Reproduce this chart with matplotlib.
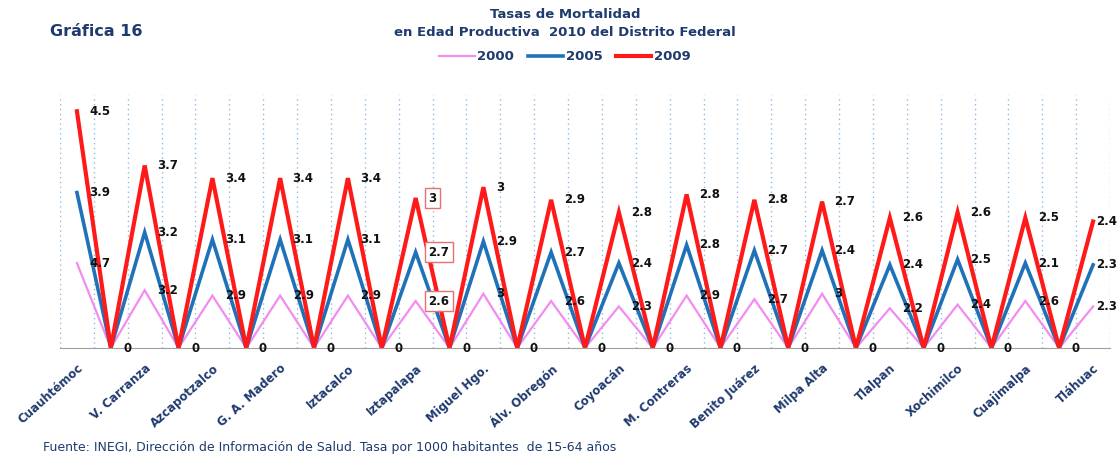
import numpy as np
import matplotlib.pyplot as plt

# Delegaciones del Distrito Federal y tasas por año
delegaciones = ["Cuauhtémoc", "V. Carranza", "Azcapotzalco", "G. A. Madero",
                "Iztacalco", "Iztapalapa", "Miguel Hgo.", "Álv. Obregón",
                "Coyoacán", "M. Contreras", "Benito Juárez", "Milpa Alta",
                "Tlalpan", "Xochimilco", "Cuajimalpa", "Tláhuac"]
tasa_2000 = [4.7, 3.2, 2.9, 2.9, 2.9, 2.6, 3, 2.6, 2.3, 2.9, 2.7, 3, 2.2, 2.4, 2.6, 2.3]
tasa_2005 = [3.9, 3.2, 3.1, 3.1, 3.1, 2.7, 2.9, 2.7, 2.4, 2.8, 2.7, 2.4, 2.4, 2.5, 2.1, 2.3]
tasa_2009 = [4.5, 3.7, 3.4, 3.4, 3.4, 3, 3, 2.9, 2.8, 2.8, 2.8, 2.7, 2.6, 2.6, 2.5, 2.4]
anios = ["2000", "2005", "2009"]

NAVY = "#1f3a6e"
colores = ["#f28cf0", "#1f72b8", "#ff1a1a"]
grosores = [1.6, 2.6, 3.0]
resaltar = {"Iztapalapa"}


def con_ceros(valores):
    """Intercala un cero entre cada delegación."""
    serie = []
    for i, v in enumerate(valores):
        serie.append(v)
        if i < len(valores) - 1:
            serie.append(0.0)
    return np.array(serie)


series = [con_ceros(s) for s in (tasa_2000, tasa_2005, tasa_2009)]
valores = [tasa_2000, tasa_2005, tasa_2009]
apiladas = np.cumsum(series, axis=0)  # líneas apiladas
x = np.arange(len(series[0]))

fig = plt.figure(figsize=(11.17, 4.54), dpi=100)
ax = fig.add_axes([60 / 1117, 106 / 454, 1050 / 1117, 253 / 454])

for k in range(len(x) + 1):
    ax.axvline(k - 0.5, color="#8fbbe0", lw=1.0, ls=(0, (1, 2.5)), zorder=0)

lineas = []
for y, c, lw, nombre in zip(apiladas, colores, grosores, anios):
    ln, = ax.plot(x, y, color=c, lw=lw, label=nombre, solid_joinstyle="miter", zorder=2)
    lineas.append(ln)

# etiquetas de datos
ultimo = len(delegaciones) - 1
for y, vals in zip(apiladas, valores):
    for i, v in enumerate(vals):
        caja = None
        if delegaciones[i] in resaltar:
            caja = dict(boxstyle="square,pad=0.3", fc="white", ec="#e87070", lw=1.0)
        dx = 2 if i == ultimo else 9
        ax.annotate(f"{v:g}", (2 * i, y[2 * i]), xytext=(dx, 0), textcoords="offset points",
                    ha="left", va="center", fontsize=8.5, fontweight="bold",
                    color="#111111", bbox=caja, zorder=3, annotation_clip=False)
for j in range(1, len(x), 2):
    ax.annotate("0", (j, 0), xytext=(9, 0), textcoords="offset points",
                ha="left", va="center", fontsize=8.5, fontweight="bold", color="#111111")

ax.set_xlim(-0.5, len(x) - 0.5)
ax.set_ylim(0, 14)
etiquetas = [""] * len(x)
for i, d in enumerate(delegaciones):
    etiquetas[2 * i] = d
ax.set_xticks(x)
ax.set_xticklabels(etiquetas, rotation=42, ha="right", rotation_mode="anchor",
                   fontsize=8.5, fontweight="bold", color=NAVY)
ax.tick_params(axis="x", length=0, pad=10)
ax.set_yticks([])
for lado in ["top", "right", "left"]:
    ax.spines[lado].set_visible(False)
ax.spines["bottom"].set_color("#a0a0a0")

fig.text(50 / 1117, 1 - 32 / 454, "Gráfica 16", fontsize=11.5, fontweight="bold",
         color=NAVY, va="center", ha="left")
fig.text(565 / 1117, 1 - 15 / 454, "Tasas de Mortalidad", fontsize=9.5,
         fontweight="bold", color=NAVY, ha="center", va="center")
fig.text(565 / 1117, 1 - 33 / 454, "en Edad Productiva  2010 del Distrito Federal",
         fontsize=9.5, fontweight="bold", color=NAVY, ha="center", va="center")
fig.legend(handles=lineas, loc="center", bbox_to_anchor=(565 / 1117, 1 - 57 / 454),
           ncol=3, frameon=False, handlelength=2.7, handletextpad=0.2,
           columnspacing=1.0, prop={"size": 9.5, "weight": "bold"}, labelcolor=NAVY)
fig.text(43 / 1117, 1 - 448 / 454,
         "Fuente: INEGI, Dirección de Información de Salud. Tasa por 1000 habitantes  de 15-64 años",
         fontsize=9, color=NAVY, ha="left", va="center")

fig.savefig("out.png", dpi=100)
